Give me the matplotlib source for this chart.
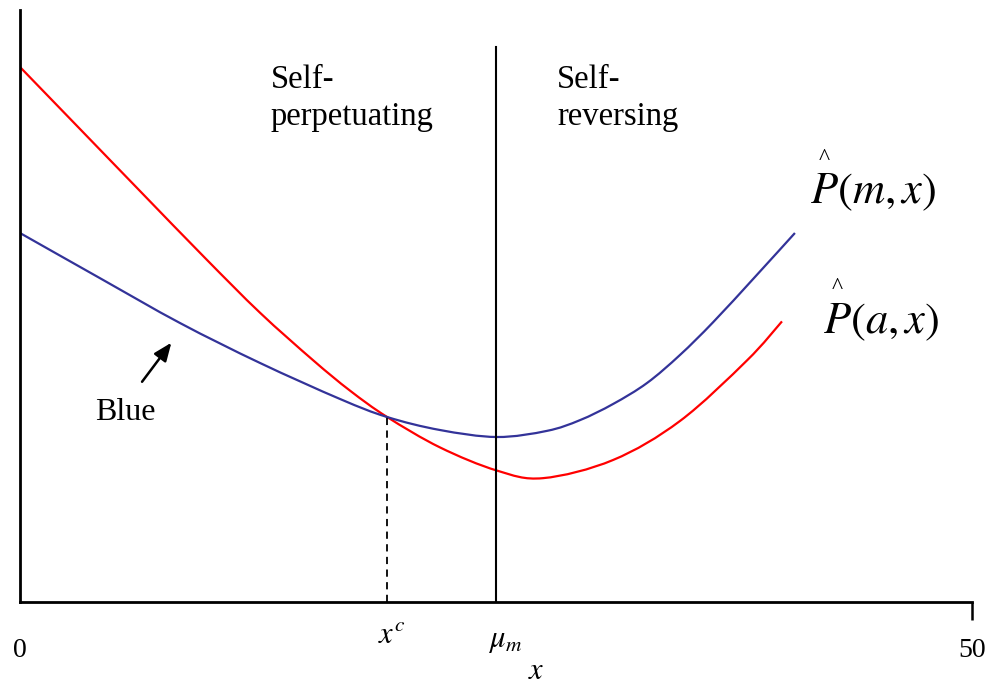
import numpy as np
import matplotlib
matplotlib.use("Agg")
import matplotlib.pyplot as plt
from matplotlib.path import Path
from matplotlib.patches import PathPatch

# Data
red_x = [0.00, 3.15, 6.30, 9.72, 12.61, 15.39, 17.33, 19.28, 22.06, 25.05,
         27.47, 31.15, 34.66, 38.18, 40.02]
red_y = [90.37, 79.90, 69.43, 58.11, 48.85, 40.85, 35.71, 31.25, 26.11, 22.20,
         20.92, 23.99, 30.57, 40.80, 47.40]
blue_x = [0.00, 4.20, 8.40, 12.61, 16.81, 19.28, 22.06, 25.05, 27.68, 29.41,
          31.15, 32.93, 34.66, 36.40, 38.60, 40.70]
blue_y = [62.33, 54.70, 47.13, 40.37, 34.29, 31.25, 29.05, 27.87, 28.91, 30.72,
          33.45, 36.99, 41.72, 47.25, 54.90, 62.33]
x_cross = 19.28
y_cross = 31.25
mu_m = 25.0
mu_top = 93.75
x_max = 50
y_max = 100

plt.rcParams['mathtext.fontset'] = 'stix'
serif = ['Liberation Serif', 'DejaVu Serif']


def smooth_path(xs, ys):
    pts = np.column_stack([xs, ys])
    n = len(pts)
    verts = [pts[0]]
    codes = [Path.MOVETO]
    for i in range(n - 1):
        p0 = pts[i - 1] if i > 0 else pts[i]
        p1 = pts[i]
        p2 = pts[i + 1]
        p3 = pts[i + 2] if i + 2 < n else pts[i + 1]
        c1 = p1 + (p2 - p0) / 6.0
        c2 = p2 - (p3 - p1) / 6.0
        verts += [c1, c2, p2]
        codes += [Path.CURVE4] * 3
    return Path(verts, codes)


fig = plt.figure(figsize=(9.9, 6.84), dpi=100)
ax = fig.add_axes([20 / 990, 82 / 684, 952 / 990, 592 / 684])
ax.set_xlim(0, x_max)
ax.set_ylim(0, y_max)

ax.add_patch(PathPatch(smooth_path(red_x, red_y), facecolor='none',
                       edgecolor='#FF0000', lw=1.6, capstyle='butt'))
ax.add_patch(PathPatch(smooth_path(blue_x, blue_y), facecolor='none',
                       edgecolor='#333399', lw=1.6, capstyle='butt'))

ax.plot([mu_m, mu_m], [0, mu_top], color='black', lw=1.5)
ax.plot([x_cross, x_cross], [0, y_cross], color='black', lw=1.3,
        dashes=(4, 3))

for s in ['top', 'right']:
    ax.spines[s].set_visible(False)
for s in ['left', 'bottom']:
    ax.spines[s].set_linewidth(2.0)
    ax.spines[s].set_color('black')
ax.set_yticks([])
ax.set_xticks([x_max])
ax.set_xticklabels([''])
ax.tick_params(axis='x', direction='out', length=13, width=1.8, color='black')

# tick labels
ax.text(0, -9.3, '0', ha='center', va='baseline', fontsize=20, family=serif,
        clip_on=False)
ax.text(x_max, -9.3, '50', ha='center', va='baseline', fontsize=20,
        family=serif, clip_on=False)

# region labels
ax.text(13.18, 86.8, 'Self-', fontsize=23.5, family=serif, va='baseline')
ax.text(13.18, 80.6, 'perpetuating', fontsize=23.5, family=serif, va='baseline')
ax.text(28.2, 86.8, 'Self-', fontsize=23.5, family=serif, va='baseline')
ax.text(28.2, 80.6, 'reversing', fontsize=23.5, family=serif, va='baseline')

# Blue annotation
ax.annotate('', xy=(7.95, 43.8), xytext=(6.41, 37.2),
            arrowprops=dict(arrowstyle='-|>,head_length=1.1,head_width=0.45',
                            color='black', lw=1.8, shrinkA=0, shrinkB=0))
ax.text(3.94, 30.7, 'Blue', fontsize=23, family=serif, va='baseline')

# curve labels
ax.text(41.5, 67.4, r'$P(m,x)$', fontsize=32, va='baseline')
ax.text(42.25, 74.0, '^', fontsize=17, family=serif, ha='center', va='baseline')
ax.text(42.17, 45.4, r'$P(a,x)$', fontsize=32, va='baseline')
ax.text(42.9, 52.2, '^', fontsize=17, family=serif, ha='center', va='baseline')

# axis markers
ax.text(18.8, -6.9, r'$x^c$', fontsize=22, va='baseline', clip_on=False)
ax.text(24.6, -7.6, r'$\mu_m$', fontsize=22, va='baseline', clip_on=False)
ax.text(26.7, -13.0, r'$x$', fontsize=22, va='baseline', clip_on=False)

fig.savefig('out.png', dpi=100)
